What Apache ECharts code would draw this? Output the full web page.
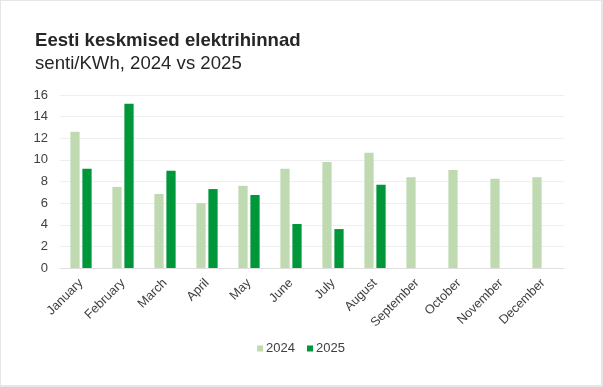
<!DOCTYPE html>
<html>
<head>
<meta charset="utf-8">
<script src="https://cdn.jsdelivr.net/npm/echarts@6/dist/echarts.min.js"></script>
<style>
html,body{margin:0;padding:0;background:#e6e6e6;}
#wrap{position:absolute;left:1px;top:1px;width:600px;height:384px;background:#fff;}
#c{width:600px;height:384px;}
</style>
</head>
<body>
<div id="wrap"><div id="c"></div></div>
<script>
const months = ["January","February","March","April","May","June","July","August","September","October","November","December"];
const values2024 = [12.6, 7.5, 6.85, 6.0, 7.6, 9.17, 9.8, 10.65, 8.4, 9.07, 8.25, 8.4];
const values2025 = [9.17, 15.2, 9.0, 7.3, 6.75, 4.07, 3.6, 7.7, null, null, null, null];
const yTicks = [0, 2, 4, 6, 8, 10, 12, 14, 16];

const chart = echarts.init(document.getElementById('c'));
chart.setOption({
  animation: false,
  backgroundColor: '#fff',
  title: {
    text: 'Eesti keskmised elektrihinnad',
    subtext: 'senti/KWh, 2024 vs 2025',
    left: 34, top: 30, padding: 0,
    itemGap: 4,
    textStyle: {fontFamily: 'Liberation Sans, Arial', fontSize: 18.6, fontWeight: 'bold', color: '#262626'},
    subtextStyle: {fontFamily: 'Liberation Sans, Arial', fontSize: 18.6, color: '#262626'}
  },
  legend: {
    top: 336, left: 'center',
    itemWidth: 6, itemHeight: 6, itemGap: 12,
    icon: 'rect',
    textStyle: {fontFamily: 'Liberation Sans, Arial', fontSize: 13, color: '#404040', padding: [0,0,0,-2]},
    data: ['2024', '2025']
  },
  grid: {left: 59, right: 37, top: 94, bottom: 117, containLabel: false},
  xAxis: {
    type: 'category', data: months,
    axisLine: {lineStyle: {color: '#e0e0e0'}},
    axisTick: {show: false},
    axisLabel: {rotate: 45, interval: 0, fontFamily: 'Liberation Sans, Arial', fontSize: 12.7, color: '#404040', margin: 13}
  },
  yAxis: {
    type: 'value', min: yTicks[0], max: yTicks[yTicks.length-1], interval: 2,
    axisLine: {show: false}, axisTick: {show: false},
    splitLine: {lineStyle: {color: '#efefef'}},
    axisLabel: {fontFamily: 'Liberation Sans, Arial', fontSize: 13, color: '#404040', margin: 12}
  },
  series: [
    {name: '2024', type: 'bar', data: values2024, barWidth: '22%', barGap: '30%', itemStyle: {color: '#bfdab0'}},
    {name: '2025', type: 'bar', data: values2025, barWidth: '22%', barGap: '30%', itemStyle: {color: '#00963a'}}
  ]
});
</script>
</body>
</html>
